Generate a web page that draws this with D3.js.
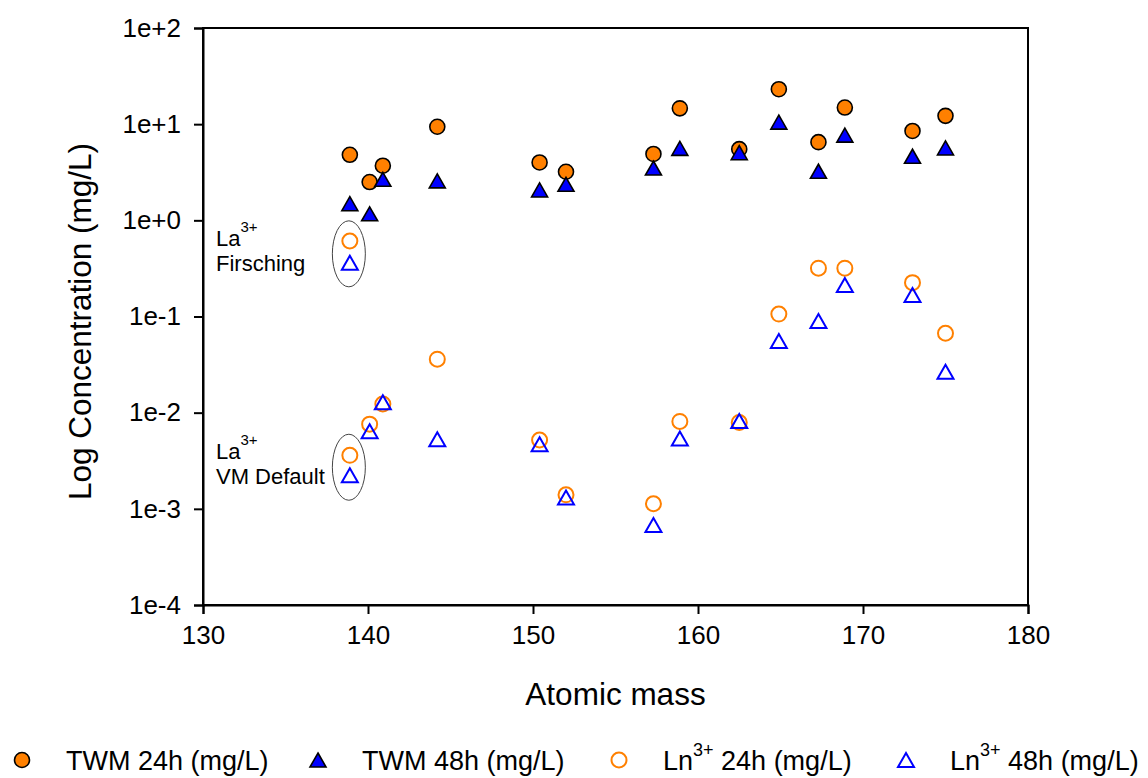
<!DOCTYPE html>
<html>
<head>
<meta charset="utf-8">
<script src="https://cdn.jsdelivr.net/npm/d3@7"></script>
<style>
  body { margin: 0; background: #fff; }
  svg { display: block; font-family: Arial, "Liberation Sans", sans-serif; }
</style>
</head>
<body>
<svg id="chart"></svg>
<script>
const width = 1148;
const height = 778;

// lanthanide atomic masses (La .. Lu)
const atomicMass = [138.9, 140.1, 140.9, 144.2, 150.4, 152.0, 157.3, 158.9, 162.5, 164.9, 167.3, 168.9, 173.0, 175.0];

const twm24 = [4.8, 2.5, 3.7, 9.4, 4.0, 3.2, 4.9, 14.6, 5.5, 23.1, 6.5, 14.9, 8.5, 12.2];
const twm48 = [1.49, 1.17, 2.67, 2.57, 2.07, 2.37, 3.5, 5.6, 5.05, 10.5, 3.24, 7.7, 4.64, 5.66];
const ln24 = [0.0036, 0.0076, 0.0123, 0.036, 0.0052, 0.0014, 0.00113, 0.0081, 0.0079, 0.106, 0.318, 0.318, 0.225, 0.067];
const ln48 = [0.00224, 0.0064, 0.0128, 0.0053, 0.0047, 0.00131, 0.00068, 0.0054, 0.0082, 0.0555, 0.0896, 0.213, 0.167, 0.0266];

// La3+ reference values (Firsching)
const laFirschingMass = [138.9];
const laFirsching24 = [0.61];
const laFirsching48 = [0.363];

const xTicks = [130, 140, 150, 160, 170, 180];
const yTicks = [1e-4, 1e-3, 1e-2, 1e-1, 1e0, 1e1, 1e2];
const yTickLabels = ["1e-4", "1e-3", "1e-2", "1e-1", "1e+0", "1e+1", "1e+2"];

const legendLabels = [
  { name: "TWM 24h (mg/L)", sup: null, rest: null },
  { name: "TWM 48h (mg/L)", sup: null, rest: null },
  { name: "Ln", sup: "3+", rest: " 24h (mg/L)" },
  { name: "Ln", sup: "3+", rest: " 48h (mg/L)" }
];

const orange = "#ff8000";
const blue = "#0000ff";

const margin = { top: 28, right: 120, bottom: 173, left: 203 };

const svg = d3.select("#chart")
  .attr("width", width)
  .attr("height", height);

const x = d3.scaleLinear()
  .domain([130, 180])
  .range([margin.left, width - margin.right]);

const y = d3.scaleLog()
  .domain([1e-4, 1e2])
  .range([height - margin.bottom, margin.top]);

// frame
svg.append("rect")
  .attr("x", x(130))
  .attr("y", y(1e2))
  .attr("width", x(180) - x(130))
  .attr("height", y(1e-4) - y(1e2))
  .attr("fill", "none")
  .attr("stroke", "#000")
  .attr("stroke-width", 2);

const xAxis = d3.axisBottom(x)
  .tickValues(xTicks)
  .tickSize(9)
  .tickPadding(12)
  .tickFormat(d3.format("d"));

const yAxis = d3.axisLeft(y)
  .tickValues(yTicks)
  .tickSize(9)
  .tickPadding(13)
  .tickFormat((d, i) => yTickLabels[i]);

const gx = svg.append("g")
  .attr("transform", `translate(0, ${y(1e-4)})`)
  .call(xAxis);

const gy = svg.append("g")
  .attr("transform", `translate(${x(130)}, 0)`)
  .call(yAxis);

[gx, gy].forEach(g => {
  g.select(".domain").attr("stroke-width", 2);
  g.selectAll(".tick line").attr("stroke-width", 2);
  g.selectAll(".tick text")
    .attr("font-size", 26)
    .attr("font-family", "Arial, 'Liberation Sans', sans-serif")
    .attr("fill", "#000");
});

// axis titles
svg.append("text")
  .attr("x", (x(130) + x(180)) / 2)
  .attr("y", 705)
  .attr("text-anchor", "middle")
  .attr("font-size", 31.5)
  .text("Atomic mass");

svg.append("text")
  .attr("transform", `translate(91, ${(y(1e2) + y(1e-4)) / 2 + 5}) rotate(-90)`)
  .attr("text-anchor", "middle")
  .attr("font-size", 31.5)
  .text("Log Concentration (mg/L)");

// marker shapes
const triW = 16, triH = 14;
function triPath(cx, cy) {
  return `M${cx},${cy - triH / 2}L${cx + triW / 2},${cy + triH / 2}L${cx - triW / 2},${cy + triH / 2}Z`;
}

function drawCircles(g, xs, ys, filled) {
  g.selectAll(null)
    .data(xs.map((m, i) => [m, ys[i]]))
    .join("circle")
    .attr("cx", d => x(d[0]))
    .attr("cy", d => y(d[1]))
    .attr("r", 7.5)
    .attr("fill", filled ? orange : "none")
    .attr("stroke", filled ? "#000" : orange)
    .attr("stroke-width", filled ? 1.6 : 2);
}

function drawTriangles(g, xs, ys, filled) {
  g.selectAll(null)
    .data(xs.map((m, i) => [m, ys[i]]))
    .join("path")
    .attr("d", d => triPath(x(d[0]), y(d[1])))
    .attr("fill", filled ? blue : "none")
    .attr("stroke", filled ? "#000" : blue)
    .attr("stroke-width", filled ? 1.6 : 2);
}

const marks = svg.append("g");
drawCircles(marks.append("g"), atomicMass, twm24, true);
drawTriangles(marks.append("g"), atomicMass, twm48, true);
drawCircles(marks.append("g"), atomicMass, ln24, false);
drawTriangles(marks.append("g"), atomicMass, ln48, false);
drawCircles(marks.append("g"), laFirschingMass, laFirsching24, false);
drawTriangles(marks.append("g"), laFirschingMass, laFirsching48, false);

// La3+ annotations with ellipses
const annotations = [
  { label: "Firsching", v24: laFirsching24[0], v48: laFirsching48[0] },
  { label: "VM Default", v24: ln24[0], v48: ln48[0] }
];

annotations.forEach(a => {
  const cy = (y(a.v24) + y(a.v48)) / 2 + 2;
  svg.append("ellipse")
    .attr("cx", x(atomicMass[0]) - 1)
    .attr("cy", cy)
    .attr("rx", 16.5)
    .attr("ry", 33)
    .attr("fill", "none")
    .attr("stroke", "#444")
    .attr("stroke-width", 1);

  const t1 = svg.append("text")
    .attr("x", 216)
    .attr("y", cy - 8)
    .attr("font-size", 22);
  t1.append("tspan").text("La");
  t1.append("tspan").attr("font-size", 15).attr("dy", -14).text("3+");

  svg.append("text")
    .attr("x", 216)
    .attr("y", cy + 17)
    .attr("font-size", 22)
    .text(a.label);
});

// legend
const legendX = [22, 318, 619, 906];
const legendY = 760;
const legend = svg.append("g");

legendLabels.forEach((d, i) => {
  const lx = legendX[i];
  if (i === 0 || i === 2) {
    legend.append("circle")
      .attr("cx", lx).attr("cy", legendY).attr("r", 7.5)
      .attr("fill", i === 0 ? orange : "none")
      .attr("stroke", i === 0 ? "#000" : orange)
      .attr("stroke-width", i === 0 ? 1.6 : 2);
  } else {
    legend.append("path")
      .attr("d", triPath(lx, legendY))
      .attr("fill", i === 1 ? blue : "none")
      .attr("stroke", i === 1 ? "#000" : blue)
      .attr("stroke-width", i === 1 ? 1.6 : 2);
  }
  const t = legend.append("text")
    .attr("x", lx + 44)
    .attr("y", legendY + 10)
    .attr("font-size", 27);
  t.append("tspan").text(d.name);
  if (d.sup) {
    t.append("tspan").attr("font-size", 18).attr("dy", -14).text(d.sup);
    t.append("tspan").attr("dy", 14).text(d.rest);
  }
});
</script>
</body>
</html>
